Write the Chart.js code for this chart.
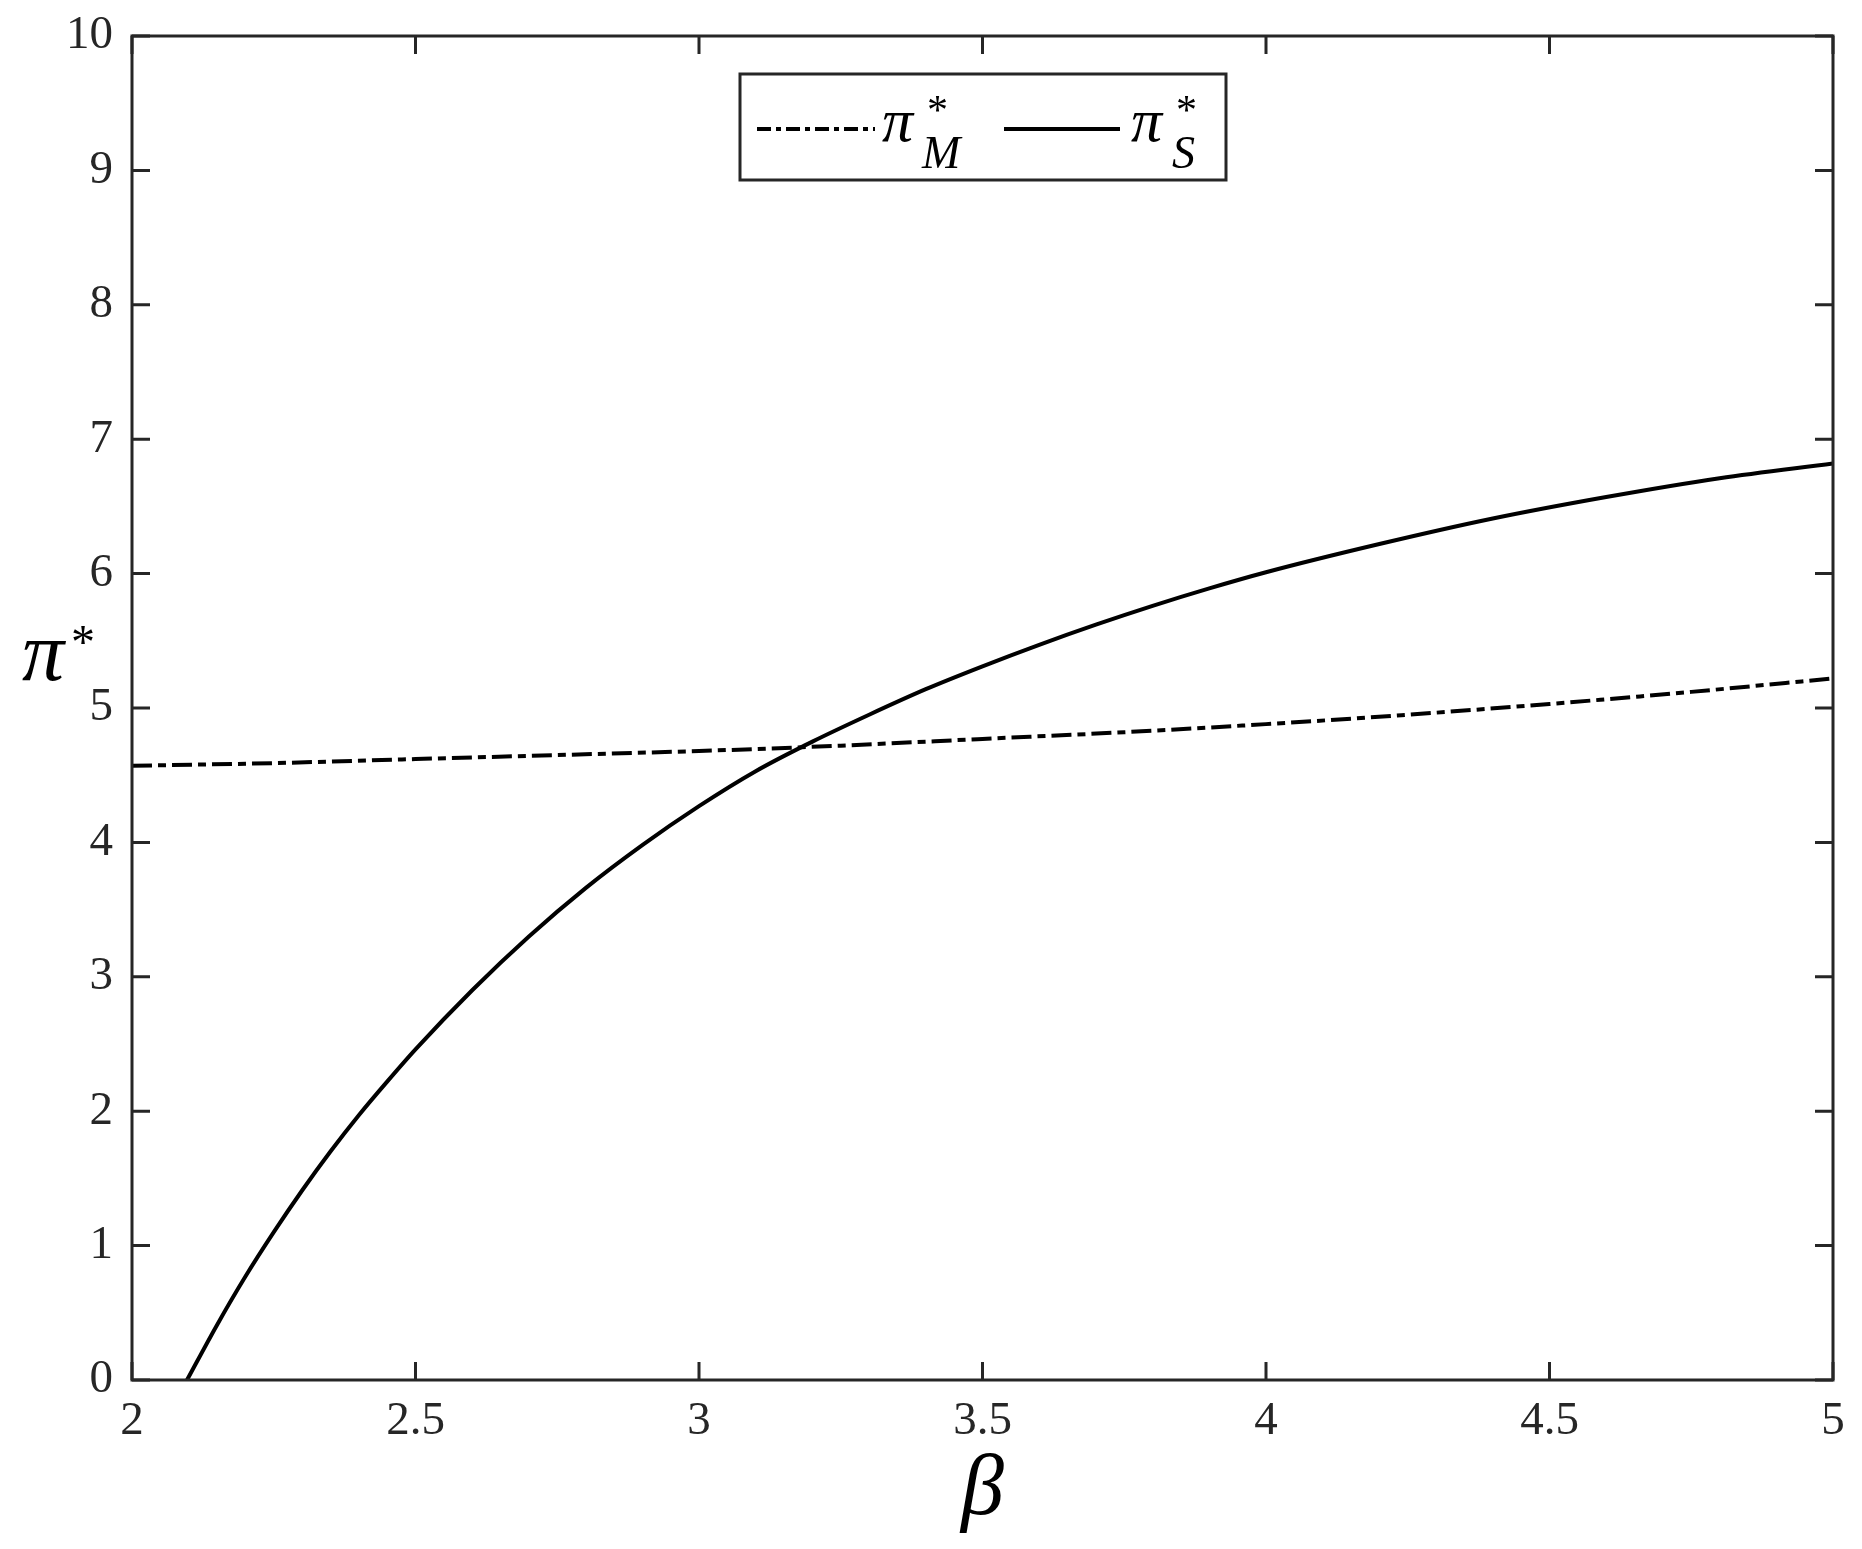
<!DOCTYPE html>
<html>
<head>
<meta charset="utf-8">
<script src="https://cdn.jsdelivr.net/npm/chart.js@4"></script>
<style>
  html, body { margin: 0; padding: 0; background: #fff; }
  #wrap { width: 1862px; height: 1549px; position: relative; }
</style>
</head>
<body>
<div id="wrap"><canvas id="chart"></canvas></div>
<script>
// beta values and profits
const betaS = [2.097, 2.15, 2.2, 2.25, 2.3, 2.35, 2.4, 2.45, 2.5, 2.6, 2.7, 2.8, 2.9, 3.0, 3.1, 3.2, 3.3, 3.4, 3.5, 3.6, 3.7, 3.8, 3.9, 4.0, 4.2, 4.4, 4.6, 4.8, 5.0];
const piS   = [0, 0.41, 0.77, 1.10, 1.41, 1.70, 1.97, 2.22, 2.46, 2.90, 3.30, 3.66, 3.98, 4.27, 4.53, 4.75, 4.95, 5.14, 5.31, 5.47, 5.62, 5.76, 5.89, 6.01, 6.22, 6.41, 6.57, 6.71, 6.82];
const betaM = [2.0, 2.25, 2.5, 2.75, 3.0, 3.25, 3.5, 3.75, 4.0, 4.25, 4.5, 4.75, 5.0];
const piM   = [4.57, 4.59, 4.62, 4.65, 4.68, 4.72, 4.77, 4.82, 4.88, 4.95, 5.03, 5.12, 5.22];

const xTicks = [2, 2.5, 3, 3.5, 4, 4.5, 5];
const yTicks = [0, 1, 2, 3, 4, 5, 6, 7, 8, 9, 10];

const serif = '"Liberation Serif", "Times New Roman", serif';
const ink = '#262626';

function pts(xs, ys) {
    return xs.map((x, i) => ({ x: x, y: ys[i] }));
}

// frame, inward ticks on all four sides, legend and axis names
const decor = {
    id: 'decor',
    afterDatasetsDraw(chart) {
        const ctx = chart.ctx;
        const a = chart.chartArea;
        const xs = chart.scales.x, ys = chart.scales.y;
        const tl = 18;
        ctx.save();
        ctx.strokeStyle = ink;
        ctx.lineWidth = 3;
        ctx.beginPath();
        xTicks.forEach(v => {
            const px = xs.getPixelForValue(v);
            ctx.moveTo(px, a.bottom); ctx.lineTo(px, a.bottom - tl);
            ctx.moveTo(px, a.top); ctx.lineTo(px, a.top + tl);
        });
        yTicks.forEach(v => {
            const py = ys.getPixelForValue(v);
            ctx.moveTo(a.left, py); ctx.lineTo(a.left + tl, py);
            ctx.moveTo(a.right, py); ctx.lineTo(a.right - tl, py);
        });
        ctx.stroke();
        ctx.strokeRect(a.left, a.top, a.right - a.left, a.bottom - a.top);

        // legend box
        const bx = 740, by = 74, bw = 486, bh = 106;
        ctx.fillStyle = '#fff';
        ctx.fillRect(bx, by, bw, bh);
        ctx.strokeRect(bx, by, bw, bh);
        const ly = 129;
        ctx.strokeStyle = '#000';
        ctx.lineWidth = 4;
        ctx.setLineDash([14, 5, 5, 5]);
        ctx.beginPath(); ctx.moveTo(757, ly); ctx.lineTo(875, ly); ctx.stroke();
        ctx.setLineDash([]);
        ctx.beginPath(); ctx.moveTo(1004, ly); ctx.lineTo(1120, ly); ctx.stroke();

        ctx.fillStyle = '#000';
        ctx.textBaseline = 'alphabetic';
        ctx.textAlign = 'left';
        ctx.font = 'italic 62px ' + serif;
        ctx.fillText('π', 882, 141);
        ctx.fillText('π', 1131, 141);
        ctx.font = 'italic 46px ' + serif;
        ctx.fillText('M', 922, 168);
        ctx.fillText('S', 1172, 168);
        ctx.font = '42px ' + serif;
        ctx.fillText('*', 927, 124);
        ctx.fillText('*', 1176, 124);

        // y axis name
        ctx.font = 'italic 84px ' + serif;
        ctx.fillText('π', 22, 680);
        ctx.font = '48px ' + serif;
        ctx.fillText('*', 71, 658);

        // x axis name
        ctx.font = 'italic 86px ' + serif;
        ctx.textAlign = 'center';
        ctx.fillText('β', (a.left + a.right) / 2, 1514);
        ctx.restore();
    }
};

const canvas = document.getElementById('chart');
canvas.width = 1862;
canvas.height = 1549;

new Chart(canvas.getContext('2d'), {
    type: 'line',
    data: {
        datasets: [
            {
                label: 'π*M',
                data: pts(betaM, piM),
                borderColor: '#000',
                borderWidth: 4,
                borderDash: [20, 6, 8, 6],
                pointRadius: 0,
                cubicInterpolationMode: 'monotone',
                fill: false
            },
            {
                label: 'π*S',
                data: pts(betaS, piS),
                borderColor: '#000',
                borderWidth: 4,
                pointRadius: 0,
                cubicInterpolationMode: 'monotone',
                fill: false
            }
        ]
    },
    options: {
        responsive: false,
        animation: false,
        layout: { padding: { left: 0, top: 36, right: 29, bottom: 0 } },
        plugins: {
            legend: { display: false },
            tooltip: { enabled: false }
        },
        scales: {
            x: {
                type: 'linear',
                min: 2,
                max: 5,
                afterFit: s => { s.height = 169; s.paddingLeft = 0; s.paddingRight = 0; },
                afterBuildTicks: s => { s.ticks = xTicks.map(v => ({ value: v })); },
                ticks: {
                    color: ink,
                    font: { family: serif, size: 47 },
                    padding: 13,
                    maxRotation: 0,
                    callback: v => String(v)
                },
                grid: { display: false, drawTicks: false },
                border: { display: false }
            },
            y: {
                type: 'linear',
                min: 0,
                max: 10,
                afterFit: s => { s.width = 132; s.paddingTop = 0; s.paddingBottom = 0; },
                afterBuildTicks: s => { s.ticks = yTicks.map(v => ({ value: v })); },
                ticks: {
                    color: ink,
                    font: { family: serif, size: 47 },
                    padding: 19,
                    callback: v => String(v)
                },
                grid: { display: false, drawTicks: false },
                border: { display: false }
            }
        }
    },
    plugins: [decor]
});
</script>
</body>
</html>
